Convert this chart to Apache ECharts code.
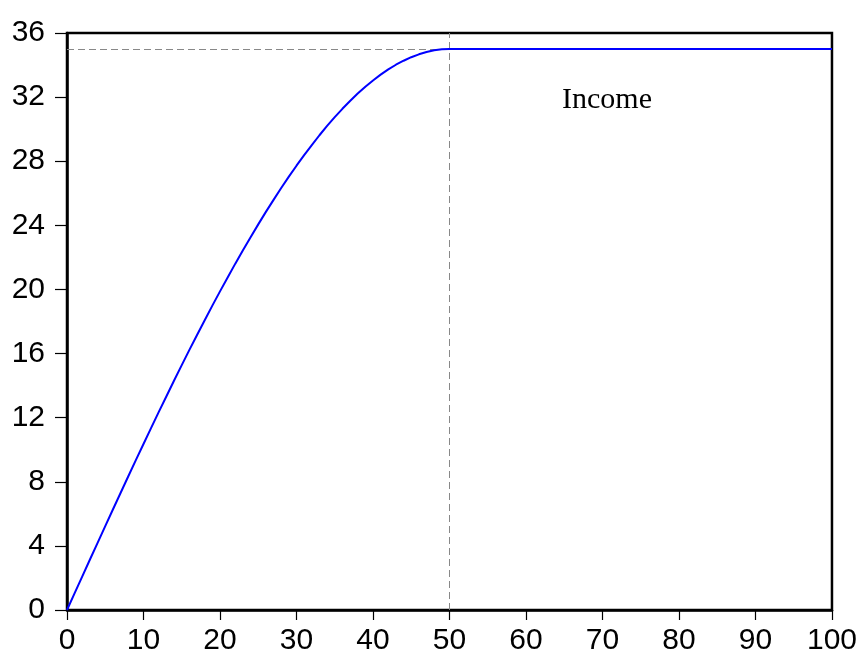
<!DOCTYPE html>
<html>
<head>
<meta charset="utf-8">
<script src="https://cdn.jsdelivr.net/npm/echarts@6/dist/echarts.min.js"></script>
<style>html,body{margin:0;padding:0;background:#fff;}#c{width:860px;height:656px;}</style>
</head>
<body>
<div id="c"></div>
<script>
// Income path: rises to 35 by t=50, then flat
var periods = [];
for (var i = 0; i <= 100; i++) periods.push(i);
var incomeRise = [0, 1.05, 2.10, 3.15, 4.19, 5.23, 6.27, 7.30, 8.33, 9.35,
  10.36, 11.36, 12.36, 13.34, 14.32, 15.28, 16.23, 17.16, 18.08, 18.99,
  19.88, 20.75, 21.61, 22.45, 23.26, 24.06, 24.84, 25.59, 26.33, 27.04,
  27.72, 28.38, 29.01, 29.62, 30.20, 30.75, 31.27, 31.76, 32.22, 32.65,
  33.04, 33.40, 33.73, 34.02, 34.27, 34.49, 34.67, 34.81, 34.92, 34.98, 35.00];
var incomeFlat = [35, 35, 35, 35, 35, 35, 35, 35, 35, 35,
  35, 35, 35, 35, 35, 35, 35, 35, 35, 35,
  35, 35, 35, 35, 35, 35, 35, 35, 35, 35,
  35, 35, 35, 35, 35, 35, 35, 35, 35, 35,
  35, 35, 35, 35, 35, 35, 35, 35, 35, 35];
var income = incomeRise.concat(incomeFlat);
var steadyValue = 35;
var switchPeriod = 50;
var yTicks = [0, 4, 8, 12, 16, 20, 24, 28, 32, 36];
var xTicks = [0, 10, 20, 30, 40, 50, 60, 70, 80, 90, 100];
var seriesLabel = 'Income';

var chart = echarts.init(document.getElementById('c'), null, {renderer: 'canvas'});
var pts = periods.map(function (t, i) { return [t, income[i]]; });
var font = 'Liberation Sans, Arial, sans-serif';
chart.setOption({
  animation: false,
  grid: {left: 67, right: 26, top: 33, bottom: 46, show: true, borderColor: '#000', borderWidth: 2.5, backgroundColor: '#fff'},
  xAxis: {
    type: 'value', min: xTicks[0], max: xTicks[xTicks.length - 1], interval: 10,
    axisLine: {show: true, lineStyle: {color: '#000', width: 2.5}},
    axisTick: {show: true, length: 10, lineStyle: {color: '#000', width: 1.2}},
    axisLabel: {color: '#000', fontSize: 30, fontFamily: font, margin: 16, lineHeight: 30},
    splitLine: {show: false}
  },
  yAxis: {
    type: 'value', min: yTicks[0], max: yTicks[yTicks.length - 1], interval: 4,
    axisLine: {show: true, lineStyle: {color: '#000', width: 2.5}},
    axisTick: {show: true, length: 12, lineStyle: {color: '#000', width: 1.2}},
    axisLabel: {color: '#000', fontSize: 30, fontFamily: font, margin: 22, padding: [0, 0, 8, 0]},
    splitLine: {show: false}
  },
  series: [{
    type: 'line', data: pts, showSymbol: false, symbol: 'none',
    lineStyle: {color: '#0000ff', width: 2},
    z: 3,
    markLine: {
      silent: true, symbol: 'none', label: {show: false},
      lineStyle: {color: '#888', type: [7, 4], width: 1},
      z: 2,
      data: [
        [{coord: [0, steadyValue]}, {coord: [switchPeriod, steadyValue]}],
        [{coord: [switchPeriod, 0]}, {coord: [switchPeriod, 36]}]
      ]
    }
  }],
  graphic: [{
    type: 'text', left: 562, top: 85,
    style: {text: seriesLabel, fill: '#000', font: '30px "Liberation Serif", "Times New Roman", serif'}
  }]
});
</script>
</body>
</html>
